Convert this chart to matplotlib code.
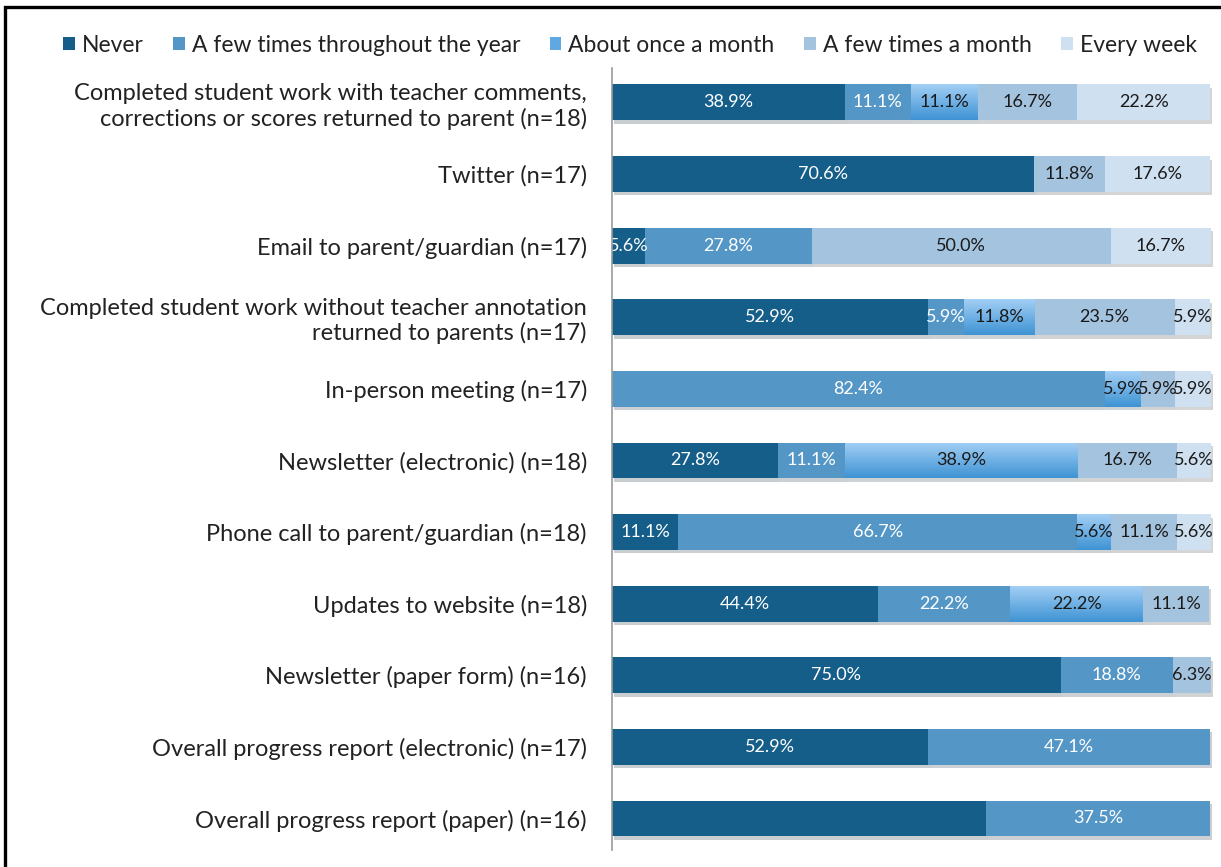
import matplotlib
matplotlib.use("Agg")
import matplotlib.pyplot as plt
import matplotlib.patheffects as pe
from matplotlib.colors import LinearSegmentedColormap
from matplotlib.patches import Patch, Rectangle
import numpy as np

plt.rcParams["font.family"] = ["Lato", "DejaVu Sans"]

categories = [
    "Completed student work with teacher comments,\ncorrections or scores returned to parent (n=18)",
    "Twitter (n=17)",
    "Email to parent/guardian (n=17)",
    "Completed student work without teacher annotation\nreturned to parents (n=17)",
    "In-person meeting (n=17)",
    "Newsletter (electronic) (n=18)",
    "Phone call to parent/guardian (n=18)",
    "Updates to website (n=18)",
    "Newsletter (paper form) (n=16)",
    "Overall progress report (electronic) (n=17)",
    "Overall progress report (paper) (n=16)",
]
series = [
    "Never",
    "A few times throughout the year",
    "About once a month",
    "A few times a month",
    "Every week",
]
never = [38.9, 70.6, 5.6, 52.9, 0, 27.8, 11.1, 44.4, 75.0, 52.9, 62.5]
few_year = [11.1, 0, 27.8, 5.9, 82.4, 11.1, 66.7, 22.2, 18.8, 47.1, 37.5]
once_month = [11.1, 0, 0, 11.8, 5.9, 38.9, 5.6, 22.2, 0, 0, 0]
few_month = [16.7, 11.8, 50.0, 23.5, 5.9, 16.7, 11.1, 11.1, 6.3, 0, 0]
every_week = [22.2, 17.6, 16.7, 5.9, 5.9, 5.6, 5.6, 0, 0, 0, 0]
values = [never, few_year, once_month, few_month, every_week]

# the paper progress report has no label on its "Never" segment
unlabeled = {(0, 10)}

colors = ["#155E8A", "#5497C7", "#5FA8E2", "#A4C3DE", "#CFE0F1"]
text_colors = ["white", "white", "#1a1a1a", "#1a1a1a", "#1a1a1a"]
grad = LinearSegmentedColormap.from_list("month", ["#3F93D4", "#A2CFF4"])

fig = plt.figure(figsize=(12.21, 8.67), dpi=100)
ax = fig.add_axes([612 / 1221, 1 - 850 / 867, 609 / 1221, (850 - 68) / 867])

y = np.arange(len(categories))
left = np.zeros(len(categories))
shadow = [pe.SimplePatchShadow(offset=(1.5, -2.5), alpha=0.22), pe.Normal()]
for i, (name, vals) in enumerate(zip(series, values)):
    vals = np.array(vals)
    bars = ax.barh(y, vals, left=left, height=0.5, color=colors[i],
                   label=name, zorder=2)
    for j, b in enumerate(bars):
        if vals[j] <= 0:
            continue
        b.set_path_effects(shadow)
        if i == 2:
            # vertical shading on the "about once a month" segments
            g = np.linspace(0, 1, 64).reshape(-1, 1)
            im = ax.imshow(g, cmap=grad, aspect="auto", origin="lower",
                           extent=[left[j], left[j] + vals[j], y[j] + 0.25, y[j] - 0.25],
                           zorder=2.5)
            im.set_clip_path(b)
        if (i, j) in unlabeled:
            continue
        ax.text(left[j] + vals[j] / 2, y[j], f"{vals[j]:.1f}%", ha="center",
                va="center", fontsize=13, color=text_colors[i], zorder=4,
                clip_on=True)
    left += vals

ax.set_xlim(0, 100 * 609 / 598)
ax.set_ylim(10.44, -0.48)
ax.set_yticks(y)
ax.set_yticklabels(categories, fontsize=17, color="#222222", linespacing=1.2)
ax.tick_params(axis="y", length=0, pad=18)
ax.set_xticks([])
for s in ["top", "right", "bottom"]:
    ax.spines[s].set_visible(False)
ax.spines["left"].set_color("#999999")
ax.spines["left"].set_linewidth(1.2)
ax.spines["left"].set_zorder(5)

handles = [Patch(facecolor=c, edgecolor="none") for c in colors]
fig.legend(handles, series, loc="center", bbox_to_anchor=(630 / 1221, 1 - 45 / 867),
           ncol=5, frameon=False, fontsize=16.5, handlelength=0.5, handleheight=0.5,
           handletextpad=0.3, columnspacing=1.3, labelcolor="#222222")

# outer frame
fig.patches.append(Rectangle((4.5 / 1221, -0.05), 1.1, 1 - 6.5 / 867 + 0.05,
                             transform=fig.transFigure, fill=False,
                             edgecolor="black", linewidth=2.4))

fig.savefig("out.png", dpi=100)
